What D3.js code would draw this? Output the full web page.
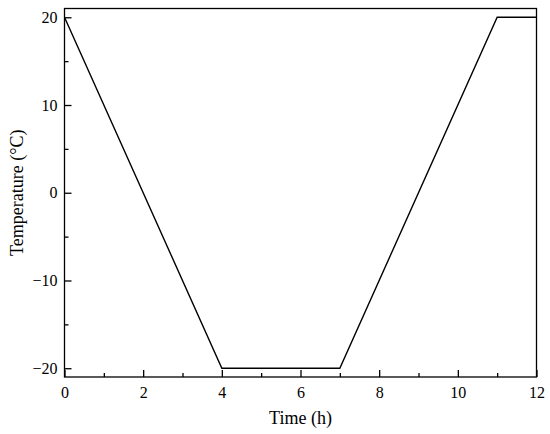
<!DOCTYPE html>
<html><head><meta charset="utf-8">
<script src="https://cdn.jsdelivr.net/npm/d3@7"></script>
<style>body{margin:0;background:#fff}svg{display:block}text{font-family:"Liberation Serif","Times New Roman",serif;fill:#000}</style>
</head><body><svg id="c" width="550" height="434"></svg>
<script>
const timeH = [0, 4, 7, 11, 12];
const tempC = [20, -20, -20, 20, 20];
const xTicks = [0, 2, 4, 6, 8, 10, 12];
const yTicks = [-20, -10, 0, 10, 20];
const xMinor = [1, 3, 5, 7, 9, 11];
const yMinor = [-15, -5, 5, 15];

const svg = d3.select("#c");
const L = 64.5, R = 536.5, T = 8.5, B = 377;
const x = d3.scaleLinear().domain([0, 12]).range([L, R]);
const y = d3.scaleLinear().domain([-21, 21]).range([B, T]);

svg.append("rect").attr("x", L).attr("y", T).attr("width", R - L).attr("height", B - T)
  .attr("fill", "none").attr("stroke", "#000").attr("stroke-width", 1.3);

const gx = svg.append("g").attr("transform", `translate(0,${B})`)
  .call(d3.axisBottom(x).tickValues(xTicks).tickSize(-7).tickPadding(10).tickFormat(d3.format("d")));
const gxm = svg.append("g").attr("transform", `translate(0,${B})`)
  .call(d3.axisBottom(x).tickValues(xMinor).tickSize(-4).tickFormat(""));
const gy = svg.append("g").attr("transform", `translate(${L},0)`)
  .call(d3.axisLeft(y).tickValues(yTicks).tickSize(-7).tickPadding(7).tickFormat(d => d < 0 ? "\u2212" + Math.abs(d) : d));
const gym = svg.append("g").attr("transform", `translate(${L},0)`)
  .call(d3.axisLeft(y).tickValues(yMinor).tickSize(-4).tickFormat(""));
[gx, gxm, gy, gym].forEach(g => {
  g.select(".domain").remove();
  g.selectAll("line").attr("stroke", "#000").attr("stroke-width", 1.3);
  g.selectAll("text").attr("font-size", 16).attr("font-family", "Liberation Serif");
});
gx.selectAll("text").attr("dy", "0.71em");

const line = d3.line().x((d, i) => x(timeH[i])).y(d => y(d));
svg.append("path").datum(tempC).attr("d", line).attr("fill", "none")
  .attr("stroke", "#000").attr("stroke-width", 1.4);

svg.append("text").attr("x", (L + R) / 2).attr("y", 424).attr("text-anchor", "middle")
  .attr("font-size", 18).text("Time (h)");
svg.append("text").attr("transform", `translate(23,${(T + B) / 2}) rotate(-90)`)
  .attr("text-anchor", "middle").attr("font-size", 18).text("Temperature (°C)");
</script></body></html>
